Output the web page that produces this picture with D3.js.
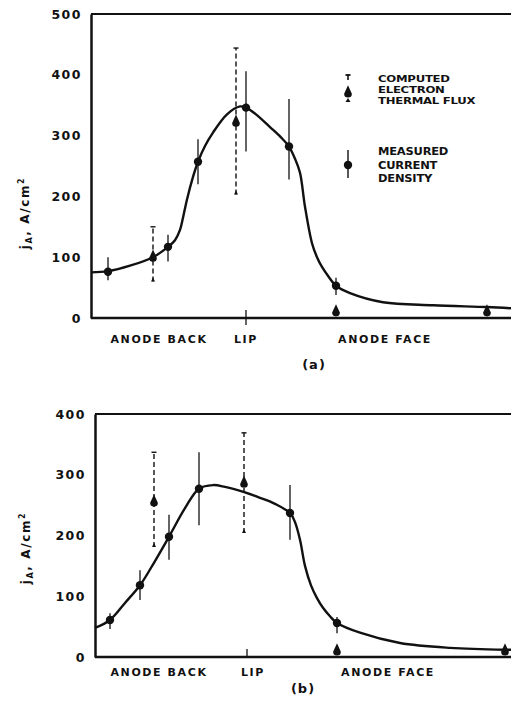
<!DOCTYPE html>
<html><head><meta charset="utf-8">
<script src="https://cdn.jsdelivr.net/npm/d3@7"></script>
<style>body{margin:0;background:#fff}svg{display:block}text{font-family:"DejaVu Sans",sans-serif;font-weight:bold;fill:#111}</style>
</head><body>
<script>
// ---------- DATA (positions in arbitrary units along the anode) ----------
const yTicksA = [0,100,200,300,400,500];
const yTicksB = [0,100,200,300,400];
const xLabels = ["ANODE BACK","LIP","ANODE FACE"];
const xLabelPosA = [68,155,294];
const xLabelPosB = [64,158,293];
const lipPosA = 155, lipPosB = 152;

// Panel (a)
const measA_x = [17,77,107,155,198,245];
const measA_y = [76,117,257,346,282,53];
const measA_lo = [62,93,220,274,228,38];
const measA_hi = [100,137,294,406,360,66];
const compA_x = [62,145,245,396];
const compA_y = [100,322,10,10];
const compA_lo = [60,203,null,null];
const compA_hi = [150,444,null,null];
const curveA_x = [0,17,39,62,77,84,89,92,96,102,107,114,122,136,149,155,165,179,190,198,204,209,214,221,226,231,238,245,259,292,342,396,420];
const curveA_y = [75,77,86,100,117,128,145,165,195,232,257,283,305,335,348,346,335,314,297,282,262,239,183,123,100,84,67,53,41,26,21,18,16];

// Panel (b)
const measB_x = [15,45,74,104,195,242];
const measB_y = [61,118,198,277,237,56];
const measB_lo = [46,94,160,217,193,39];
const measB_hi = [72,143,234,337,283,66];
const compB_x = [59,149,242,410];
const compB_y = [255,286,10,10];
const compB_lo = [181,204,null,null];
const compB_hi = [337,369,null,null];
const curveB_x = [0,15,30,45,60,74,90,104,118,130,150,165,180,195,200,205,210,216,222,228,235,242,265,305,355,410,416];
const curveB_y = [48,61,89,118,158,198,245,277,283,280,271,262,252,237,222,193,150,118,97,81,67,56,40,23,15,12,12];

const legendComputed = ["COMPUTED","ELECTRON","THERMAL FLUX"];
const legendMeasured = ["MEASURED","CURRENT","DENSITY"];

// ---------- DRAW ----------
const W=511,H=704;
const svg=d3.select("body").append("svg").attr("width",W).attr("height",H);

function spade(g,cx,cy,s){
  const r=s*0.55;
  const p=`M${cx},${cy-s*1.1} L${cx+r},${cy+0.1*s} A${r},${r} 0 1 1 ${cx-r},${cy+0.1*s} Z`;
  g.append("path").attr("d",p).attr("fill","#111");
}

function panel(cfg){
  const x=d3.scaleLinear().domain(cfg.xDomain).range([cfg.left,W]);
  const y=d3.scaleLinear().domain([0,cfg.yMax]).range([cfg.bottom,cfg.top]);
  const g=svg.append("g");
  g.append("line").attr("x1",cfg.left).attr("x2",W).attr("y1",cfg.top).attr("y2",cfg.top).attr("stroke","#111").attr("stroke-width",2.2);
  const ax=g.append("g").attr("transform",`translate(${cfg.left},0)`).call(d3.axisLeft(y).tickValues(cfg.yTicks).tickSize(0).tickPadding(9).tickFormat(d3.format("d")));
  ax.select(".domain").attr("stroke","#111").attr("stroke-width",2.5);
  ax.selectAll("text").style("font-size","12.5px").style("font-family","DejaVu Sans").style("font-weight","bold").attr("fill","#111").attr("letter-spacing","1.5");
  g.append("line").attr("x1",cfg.left).attr("x2",W).attr("y1",cfg.bottom).attr("y2",cfg.bottom).attr("stroke","#111").attr("stroke-width",2.5);
  g.append("line").attr("x1",x(cfg.lip)).attr("x2",x(cfg.lip)).attr("y1",cfg.bottom-8).attr("y2",cfg.bottom+cfg.lipDown).attr("stroke","#111").attr("stroke-width",1.3);
  const pts=cfg.cx.map((v,i)=>[x(v),y(cfg.cy[i])]);
  g.append("path").attr("d",d3.line().curve(d3.curveCatmullRom.alpha(0.5))(pts)).attr("fill","none").attr("stroke","#111").attr("stroke-width",2.4);
  cfg.mx.forEach((v,i)=>{
    g.append("line").attr("x1",x(v)).attr("x2",x(v)).attr("y1",y(cfg.mlo[i])).attr("y2",y(cfg.mhi[i])).attr("stroke","#111").attr("stroke-width",1.3);
    g.append("circle").attr("cx",x(v)).attr("cy",y(cfg.my[i])).attr("r",4.2).attr("fill","#111");
  });
  cfg.kx.forEach((v,i)=>{
    const cxp=x(v);
    if(cfg.klo[i]!=null){
      g.append("line").attr("x1",cxp).attr("x2",cxp).attr("y1",y(cfg.klo[i])).attr("y2",y(cfg.khi[i])).attr("stroke","#111").attr("stroke-width",1.4).attr("stroke-dasharray","5,3");
      g.append("line").attr("x1",cxp-2.5).attr("x2",cxp+2.5).attr("y1",y(cfg.khi[i])).attr("y2",y(cfg.khi[i])).attr("stroke","#111").attr("stroke-width",1.4);
      g.append("path").attr("d",`M${cxp-2},${y(cfg.klo[i])} L${cxp+2},${y(cfg.klo[i])} L${cxp},${y(cfg.klo[i])-4} Z`).attr("fill","#111");
    }
    spade(g,cxp,y(cfg.ky[i]),7);
  });
  xLabels.forEach((t,i)=>{
    g.append("text").attr("x",x(cfg.xl[i])).attr("y",cfg.bottom+cfg.xlDy).attr("text-anchor","middle").style("font-size","11px").attr("letter-spacing","1.6").text(t);
  });
  const yl=g.append("text").attr("transform",`translate(${cfg.ylx},${cfg.ylCy}) rotate(-90)`).attr("text-anchor","middle").style("font-size","12px").attr("letter-spacing","1.6");
  yl.append("tspan").text("j");
  yl.append("tspan").attr("dy",3).style("font-size","8px").text("A");
  yl.append("tspan").attr("dy",-3).text(", A/cm");
  yl.append("tspan").attr("dy",-5).style("font-size","8px").text("2");
  return {x,y,g};
}

panel({xDomain:[0,420],left:91,top:14,bottom:318,yMax:500,yTicks:yTicksA,lip:lipPosA,lipDown:7,
  cx:curveA_x,cy:curveA_y,mx:measA_x,my:measA_y,mlo:measA_lo,mhi:measA_hi,kx:compA_x,ky:compA_y,klo:compA_lo,khi:compA_hi,
  xl:xLabelPosA,xlDy:25,ylx:29,ylCy:213});
panel({xDomain:[0,416],left:95,top:414,bottom:657,yMax:400,yTicks:yTicksB,lip:lipPosB,lipDown:0,
  cx:curveB_x,cy:curveB_y,mx:measB_x,my:measB_y,mlo:measB_lo,mhi:measB_hi,kx:compB_x,ky:compB_y,klo:compB_lo,khi:compB_hi,
  xl:xLabelPosB,xlDy:19,ylx:30,ylCy:548});

svg.append("text").attr("x",314).attr("y",369).attr("text-anchor","middle").style("font-size","13px").attr("letter-spacing","1").text("(a)");
svg.append("text").attr("x",303).attr("y",693).attr("text-anchor","middle").style("font-size","13px").attr("letter-spacing","1").text("(b)");

// legend
const lg=svg.append("g");
const lx=348;
lg.append("line").attr("x1",lx-2.5).attr("x2",lx+2.5).attr("y1",75).attr("y2",75).attr("stroke","#111").attr("stroke-width",1.8);
lg.append("line").attr("x1",lx).attr("x2",lx).attr("y1",75).attr("y2",80).attr("stroke","#111").attr("stroke-width",1.6);
spade(lg,lx,93,7);
lg.append("path").attr("d",`M${lx-2.5},${102} L${lx+2.5},${102} L${lx},${98} Z`).attr("fill","#111");
lg.append("line").attr("x1",lx).attr("x2",lx).attr("y1",150).attr("y2",178).attr("stroke","#111").attr("stroke-width",1.4);
lg.append("circle").attr("cx",lx).attr("cy",165).attr("r",4.2).attr("fill","#111");
const legFont="'DejaVu Sans',sans-serif";
[81.5,92.5,103.5].forEach((yy,i)=>{
  lg.append("text").attr("transform",`translate(378,${yy}) scale(1.3,1)`).style("font-family",legFont).style("font-size","9px").attr("letter-spacing","-0.2").text(legendComputed[i]);
});
[155,168.5,182].forEach((yy,i)=>{
  lg.append("text").attr("transform",`translate(378,${yy}) scale(1.15,1)`).style("font-family",legFont).style("font-size","10px").attr("letter-spacing","-0.2").text(legendMeasured[i]);
});
</script>
</body></html>
